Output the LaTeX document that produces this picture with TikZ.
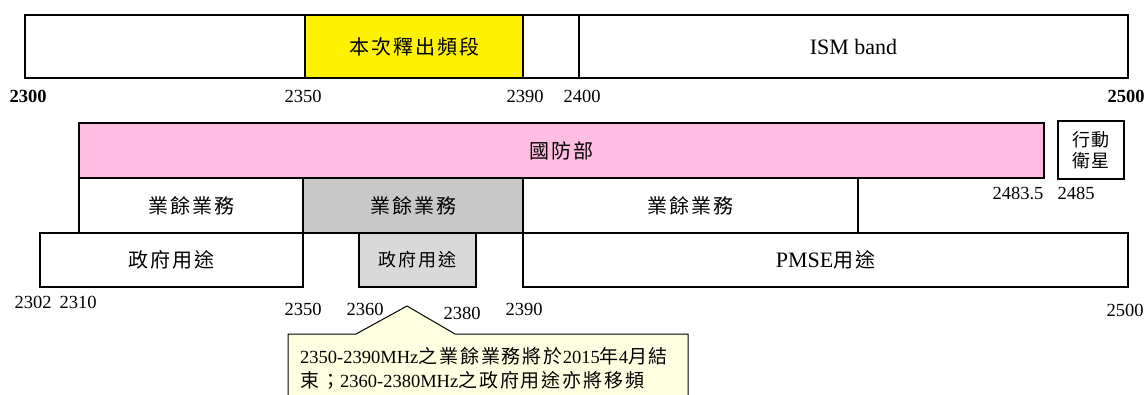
\documentclass[tikz,border=0pt]{standalone}
\usepackage{fontspec}
\setmainfont{Liberation Serif}
\newfontfamily\cjk[LetterSpace=10]{Noto Sans CJK TC}
\usetikzlibrary{positioning}

\definecolor{bandpink}{RGB}{255,190,225}
\definecolor{bandgray}{RGB}{200,200,200}
\definecolor{govgray}{RGB}{217,217,217}
\definecolor{notefill}{RGB}{255,255,225}

\tikzset{
  bandline/.style={draw=black, line width=1.2pt},
  bandtext/.style={inner sep=0pt, font=\fontsize{20}{24}\selectfont},
  smalltext/.style={inner sep=0pt, align=center, font=\fontsize{18}{21}\selectfont},
  latintext/.style={inner sep=0pt, font=\fontsize{22}{24}\selectfont},
  freq/.style={inner sep=0pt, font=\fontsize{18.5}{22}\selectfont},
}

% box from (x1,y1) to (x2,y2), name, fill
\newcommand{\bandbox}[6]{%
  \filldraw[bandline, fill=#6] (#2,#3) rectangle (#4,#5);
  \coordinate (#1) at ({(#2+#4)/2},{(#3+#5)/2});
}
% CJK words inside the note
\newcommand{\notecj}[1]{{\fontsize{19}{24}\selectfont\cjk #1}}

\begin{document}
\begin{tikzpicture}[x=1pt, y=-1pt]
    \useasboundingbox[fill=white] (0,0) rectangle (1146,394);

    % --- dải tần trên cùng ---
    \bandbox{topA}{25}{15}{305}{78}{white}
    \bandbox{topB}{305}{15}{523}{78}{yellow}
    \bandbox{topC}{523}{15}{579}{78}{white}
    \bandbox{topD}{579}{15}{1128}{78}{white}
    \node[bandtext] (release) at (topB) {\cjk 本次釋出頻段};
    \node[latintext] (ism) at (topD) {ISM band};

    \node[freq, font=\fontsize{18.5}{22}\selectfont\bfseries] (f2300) at (28,96) {2300};
    \node[freq] (f2350a) at (303,96) {2350};
    \node[freq] (f2390a) at (525,96) {2390};
    \node[freq] (f2400) at (582,96) {2400};
    \node[freq, font=\fontsize{18.5}{22}\selectfont\bfseries] (f2500a) at (1126,96) {2500};

    % --- hàng quốc phòng ---
    \bandbox{mnd}{79}{123}{1044}{178}{bandpink}
    \bandbox{mss}{1058}{121}{1124}{179}{white}
    \node[bandtext] (mndtext) at (mnd) {\cjk 國防部};
    \node[smalltext] (msstext) at (mss) {\cjk 行動\\\cjk 衛星};
    \node[freq] (f2483) at (1018,193) {2483.5};
    \node[freq] (f2485) at (1076,193) {2485};

    % --- hàng nghiệp dư ---
    \bandbox{amA}{79}{178}{303}{233}{white}
    \bandbox{amB}{303}{178}{523}{233}{bandgray}
    \bandbox{amC}{523}{178}{858}{233}{white}
    \foreach \n in {amA, amB, amC}
        \node[bandtext] (\n text) at (\n) {\cjk 業餘業務};

    % --- hàng chính phủ / PMSE ---
    \bandbox{govA}{40}{233}{303}{287}{white}
    \bandbox{govB}{359}{233}{476}{287}{govgray}
    \bandbox{pmse}{523}{233}{1128}{287}{white}
    \node[bandtext] (govAtext) at (govA) {\cjk 政府用途};
    \node[smalltext] (govBtext) at (govB) {\cjk 政府用途};
    \node[latintext] (pmsetext) at (pmse) {PMSE{\fontsize{20}{24}\selectfont\cjk 用途}};

    \node[freq] (f2302) at (33,302) {2302};
    \node[freq] (f2310) at (78,302) {2310};
    \node[freq] (f2350b) at (303,309) {2350};
    \node[freq] (f2360) at (365,309) {2360};
    \node[freq] (f2380) at (462,313) {2380};
    \node[freq] (f2390b) at (524,309) {2390};
    \node[freq] (f2500b) at (1125,310) {2500};

    % --- chú thích ---
    \filldraw[draw=black, line width=1pt, fill=notefill]
        (288,420) -- (288,334) -- (356,334) -- (407,306) -- (455,334)
        -- (688,334) -- (688,420);
    \node[anchor=north west, inner sep=0pt, align=left,
          font=\fontsize{18.5}{24}\selectfont] (note) at (300,347)
        {2350-2390MHz\notecj{之業餘業務將於}2015\notecj{年}4\notecj{月結}\\
         \notecj{束；}2360-2380MHz\notecj{之政府用途亦將移頻}};
\end{tikzpicture}
\end{document}
